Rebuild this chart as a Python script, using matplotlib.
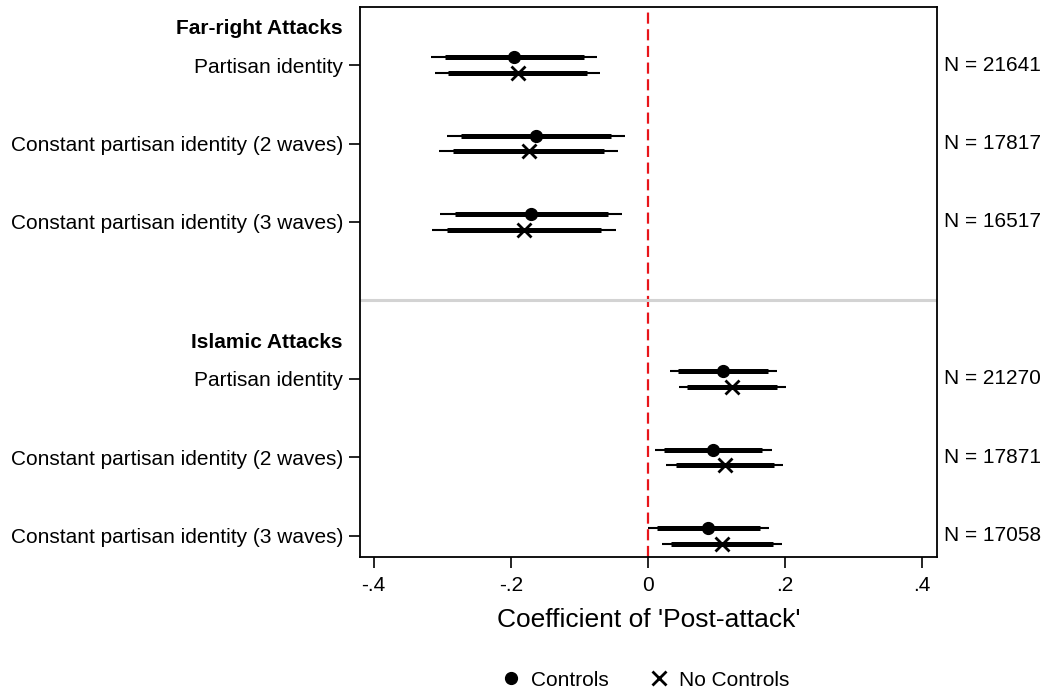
import matplotlib.pyplot as plt
import numpy as np

plt.rcParams['font.family'] = ['Liberation Sans', 'DejaVu Sans']

# etiquetas de filas y N por fila
labels = ['Partisan identity',
          'Constant partisan identity (2 waves)',
          'Constant partisan identity (3 waves)']
groups = ['Far-right Attacks', 'Islamic Attacks']
n_obs = ['N = 21641', 'N = 17817', 'N = 16517',
         'N = 21270', 'N = 17871', 'N = 17058']

# Controls: coeficiente, IC 95% (fino) e IC 90% (grueso)
ctrl_coef = [-0.195, -0.163, -0.170, 0.110, 0.095, 0.088]
ctrl_lo95 = [-0.316, -0.293, -0.303, 0.032, 0.010, 0.000]
ctrl_hi95 = [-0.074, -0.033, -0.037, 0.189, 0.181, 0.177]
ctrl_lo90 = [-0.296, -0.272, -0.282, 0.044, 0.024, 0.014]
ctrl_hi90 = [-0.093, -0.054, -0.058, 0.176, 0.167, 0.163]

# No Controls
nc_coef = [-0.189, -0.174, -0.180, 0.123, 0.112, 0.108]
nc_lo95 = [-0.311, -0.305, -0.315, 0.045, 0.027, 0.020]
nc_hi95 = [-0.070, -0.043, -0.047, 0.201, 0.198, 0.196]
nc_lo90 = [-0.292, -0.284, -0.293, 0.057, 0.041, 0.034]
nc_hi90 = [-0.089, -0.064, -0.069, 0.188, 0.184, 0.182]

xticks = [-0.4, -0.2, 0, 0.2, 0.4]
xtick_labels = ['-.4', '-.2', '0', '.2', '.4']

# posiciones verticales de cada fila
rows = np.array([0, 1, 2, 4, 5, 6])
off = 0.1

fig = plt.figure(figsize=(10.47, 6.92), dpi=100)
ax = fig.add_axes([360 / 1047, 1 - 557 / 692, 577 / 1047, 550 / 692])

ax.axvline(0, color='#e8151b', linestyle=(0, (5, 2.5)), linewidth=1.6, zorder=1)
ax.axhline(3, color='#d3d3d3', linewidth=2.2, zorder=1)

for i, y in enumerate(rows):
    yc = y - off
    yn = y + off
    ax.plot([ctrl_lo95[i], ctrl_hi95[i]], [yc, yc], color='black', lw=1.5, solid_capstyle='butt', zorder=2)
    ax.plot([ctrl_lo90[i], ctrl_hi90[i]], [yc, yc], color='black', lw=3.6, solid_capstyle='butt', zorder=3)
    ax.plot([nc_lo95[i], nc_hi95[i]], [yn, yn], color='black', lw=1.5, solid_capstyle='butt', zorder=2)
    ax.plot([nc_lo90[i], nc_hi90[i]], [yn, yn], color='black', lw=3.6, solid_capstyle='butt', zorder=3)

ax.plot(ctrl_coef, rows - off, 'o', color='black', markersize=8.5, zorder=4, label='Controls')
ax.plot(nc_coef, rows + off, 'x', color='black', markersize=10, markeredgewidth=2, zorder=4, label='No Controls')

ax.set_xlim(-0.42, 0.422)
ax.set_ylim(6.27, -0.74)
ax.set_xticks(xticks)
ax.set_xticklabels(xtick_labels, fontsize=15)
ax.tick_params(axis='x', length=8, width=1.2, pad=6)

# etiquetas de filas a la izquierda (como ticks del eje y)
ax.set_yticks(rows)
ax.set_yticklabels([labels[i % 3] for i in range(len(rows))], fontsize=15)
ax.tick_params(axis='y', length=8, width=1.2, pad=4)
for s in ax.spines.values():
    s.set_linewidth(1.3)

for i, y in enumerate(rows):
    ax.text(0.432, y, n_obs[i], ha='left', va='center', fontsize=15)
ax.text(-0.446, -0.47, groups[0], ha='right', va='center', fontsize=15, fontweight='bold')
ax.text(-0.446, 3.53, groups[1], ha='right', va='center', fontsize=15, fontweight='bold')

ax.set_xlabel("Coefficient of 'Post-attack'", fontsize=19, labelpad=9)

fig.legend(loc='center', bbox_to_anchor=(645 / 1047, 1 - 680 / 692), ncol=2, frameon=False,
           fontsize=15, handlelength=1, handletextpad=0.45, columnspacing=1.9)

plt.savefig('out.png', dpi=100)
